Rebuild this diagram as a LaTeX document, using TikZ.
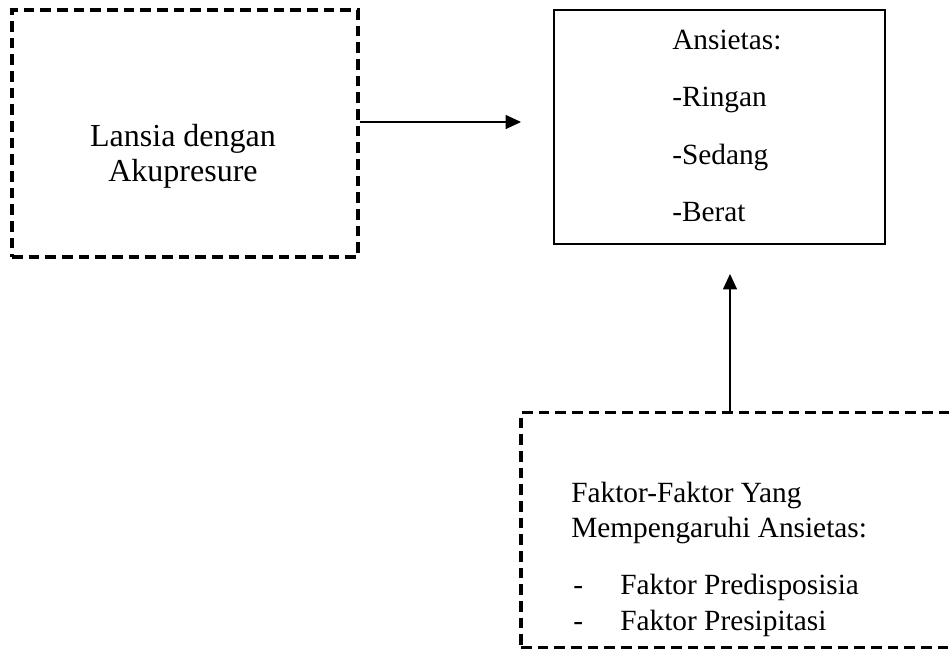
\documentclass[tikz,border=0pt]{standalone}
\usepackage{fontspec}
\setmainfont{Liberation Serif}
\usetikzlibrary{arrows.meta}
\usetikzlibrary{positioning}

\tikzset{
  dashbox/.style={draw,line width=2.6pt,dash pattern=on 8pt off 4.5pt,inner sep=0pt},
  solidbox/.style={draw,line width=1.8pt,inner sep=0pt},
  txt/.style={font=\fontsize{22}{27}\selectfont,inner sep=0pt},
  bigtxt/.style={font=\fontsize{24}{29}\selectfont,inner sep=0pt},
  arr/.style={line width=0.8pt,-{Triangle[length=11.5pt,width=10.5pt]}}
}

\begin{document}
\begin{tikzpicture}[x=0.75pt,y=-0.75pt]
        \useasboundingbox (0,0) rectangle (952,651);
        % kotak
        \node[dashbox,minimum width=259.5pt,minimum height=185.25pt] (lansia) at (185,133.5) {};
        \node[solidbox,minimum width=248.25pt,minimum height=175.5pt] (ansietas) at (719.5,127) {};
        \node[dashbox,minimum width=360pt,minimum height=176.25pt] (faktor) at (761,530) {};
        % teks
        \node[bigtxt,anchor=base] (lansia1) at (183,146) {Lansia dengan};
        \node[bigtxt,anchor=base] (lansia2) at (183,181) {Akupresure};
        \node[txt,anchor=base west] (ans1) at (672,49) {Ansietas:};
        \node[txt,anchor=base west] (ans2) at (672,106) {-Ringan};
        \node[txt,anchor=base west] (ans3) at (672,164) {-Sedang};
        \node[txt,anchor=base west] (ans4) at (672,221) {-Berat};
        \node[txt,anchor=base west] (fak1) at (571,502) {Faktor-Faktor Yang};
        \node[txt,anchor=base west] (fak2) at (571,537) {Mempengaruhi Ansietas:};
        \node[txt,anchor=base west] (dash1) at (573,594) {-};
        \node[txt,anchor=base west] (fak3) at (620,594) {Faktor Predisposisia};
        \node[txt,anchor=base west] (dash2) at (573,630) {-};
        \node[txt,anchor=base west] (fak4) at (620,630) {Faktor Presipitasi};
        % panah
        \coordinate (tipA) at (521,122);
        \coordinate (tipB) at (730,274);
        \draw[arr] (lansia.east |- tipA) -- (tipA);
        \draw[arr] (faktor.north -| tipB) -- (tipB);
\end{tikzpicture}
\end{document}
